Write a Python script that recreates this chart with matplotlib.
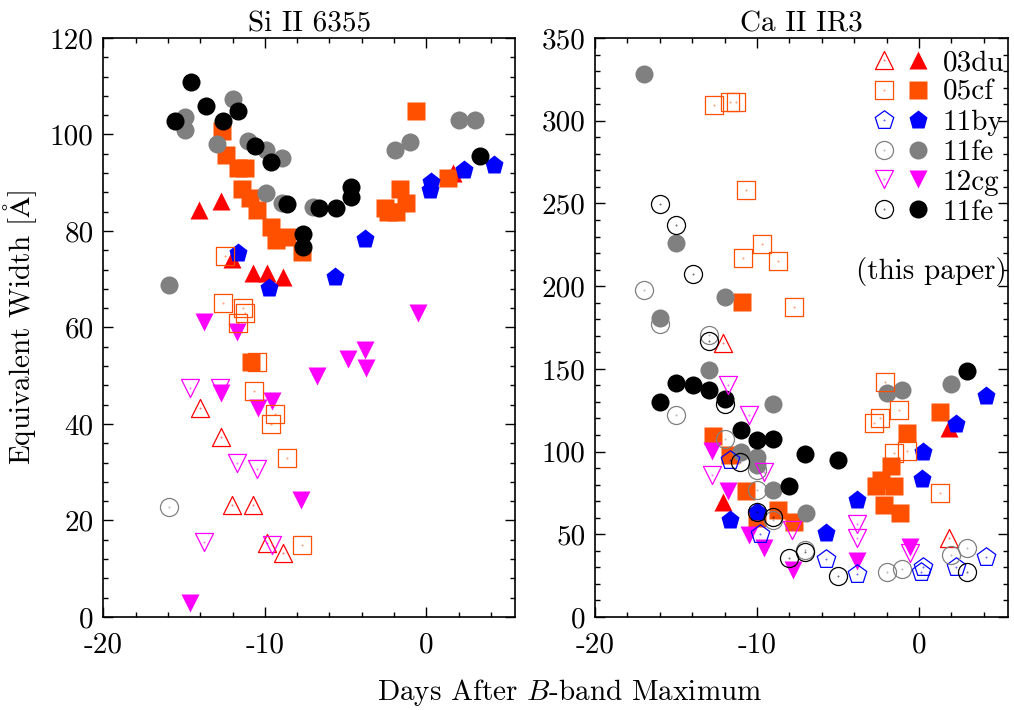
import matplotlib
matplotlib.use("Agg")
import matplotlib.pyplot as plt
from matplotlib.legend_handler import HandlerTuple
from matplotlib.ticker import MultipleLocator
from matplotlib.markers import MarkerStyle
from matplotlib.path import Path

plt.rcParams['font.family'] = ['cmr10', 'DejaVu Serif']
plt.rcParams['mathtext.fontset'] = 'cm'
plt.rcParams['axes.unicode_minus'] = False
plt.rcParams['axes.formatter.use_mathtext'] = False

# ---------------- Si II 6355 (left panel) ----------------
si_03du_open_day = [-14.02, -12.74, -12.02, -10.76, -9.86, -8.87]
si_03du_open_ew = [43.3, 37.4, 23.2, 23.2, 15.3, 13.3]
si_03du_fill_day = [-14.06, -12.74, -12.06, -10.76, -9.86, -8.87, 1.65]
si_03du_fill_ew = [84.4, 86.3, 74.2, 71.3, 71.3, 70.5, 92.0]

si_05cf_open_day = [-12.46, -12.62, -11.34, -11.24, -11.65, -10.48, -10.66, -9.38, -9.65, -8.66, -7.67]
si_05cf_open_ew = [74.9, 65.0, 64.0, 62.9, 60.9, 52.9, 46.9, 42.0, 39.9, 32.9, 14.9]
si_05cf_fill_day = [-12.66, -12.41, -11.65, -11.24, -11.44, -10.93, -10.51, -9.65, -9.28, -8.66, -7.67,
                    -10.88, -0.66, -1.65, -2.58, -2.37, -1.24, -1.9, 1.34]
si_05cf_fill_ew = [100.8, 95.8, 93.0, 93.0, 88.8, 86.8, 84.4, 80.8, 78.1, 78.8, 75.7,
                   52.9, 104.9, 88.8, 84.7, 84.0, 85.7, 84.0, 90.9]

si_11by_open_day = []
si_11by_open_ew = []
si_11by_fill_day = [-11.65, -9.75, -3.77, -5.67, 0.31, 0.2, 2.31, 4.22]
si_11by_fill_ew = [75.4, 68.1, 78.3, 70.5, 90.2, 88.5, 92.6, 93.7]

si_11fe_open_day = [-15.93]
si_11fe_open_ew = [22.7]
si_11fe_fill_day = [-15.93, -14.95, -14.95, -12.95, -11.96, -11.03, -9.94, -8.97, -9.96, -8.97, -7.01,
                    -1.96, -0.99, 2.0, 2.99]
si_11fe_fill_ew = [68.9, 103.7, 100.9, 98.0, 107.3, 98.7, 96.8, 95.1, 87.8, 85.7, 85.0,
                   96.8, 98.5, 103.0, 103.0]

si_12cg_open_day = [-14.64, -12.78, -11.75, -10.48, -13.75, -9.55]
si_12cg_open_ew = [47.4, 47.4, 31.9, 30.6, 15.5, 14.9]
si_12cg_fill_day = [-13.75, -11.75, -12.74, -10.45, -9.55, -6.77, -4.85, -3.82, -3.75, -7.77, -0.52, -14.64]
si_12cg_fill_ew = [61.2, 59.0, 46.4, 43.4, 44.8, 50.0, 53.4, 55.3, 51.6, 24.2, 62.9, 2.8]

si_this_open_day = []
si_this_open_ew = []
si_this_fill_day = [-15.57, -14.6, -13.65, -12.62, -11.65, -10.62, -9.6, -8.66, -7.63, -7.63,
                    -6.64, -5.61, -4.64, -4.64, 3.3]
si_this_fill_ew = [102.8, 110.9, 105.9, 102.8, 104.9, 97.6, 94.2, 85.5, 79.4, 76.6,
                   84.8, 84.8, 89.2, 87.1, 95.5]

# ---------------- Ca II IR3 (right panel) ----------------
ca_03du_open_day = [-12.07, 1.85]
ca_03du_open_ew = [165.9, 47.6]
ca_03du_fill_day = [-12.1, 1.85]
ca_03du_fill_ew = [69.8, 114.3]

ca_05cf_open_day = [-12.68, -11.69, -11.28, -10.7, -9.69, -10.89, -8.7, -7.69, -2.11, -1.24, -2.42, -2.75,
                    -1.55, -0.72, 1.27]
ca_05cf_open_ew = [309.5, 311.5, 311.5, 258.3, 225.5, 216.9, 215.4, 187.1, 142.0, 125.4, 120.0, 117.0,
                   99.1, 100.1, 74.9]
ca_05cf_fill_day = [-10.93, -12.72, -11.69, -10.66, -10.0, -8.73, -7.74, -0.72, -1.71, -2.37, -2.68, -1.51,
                    -2.13, -1.2, 1.27]
ca_05cf_fill_ew = [190.2, 109.2, 98.1, 75.9, 60.0, 64.7, 57.6, 111.3, 91.0, 82.9, 78.9, 78.9,
                   67.8, 62.7, 123.8]

ca_11by_open_day = [-11.69, -9.8, -5.71, -3.82, 0.14, 0.27, 2.26, 4.16]
ca_11by_open_ew = [95.1, 50.2, 34.8, 25.9, 27.3, 30.3, 30.3, 36.0]
ca_11by_fill_day = [-11.69, -10.0, -3.82, -5.71, 0.27, 0.2, 2.26, 4.16]
ca_11by_fill_ew = [58.7, 63.7, 70.8, 50.6, 99.5, 83.4, 116.9, 133.5]

ca_11fe_open_day = [-16.97, -15.98, -12.99, -14.99, -12.0, -10.0, -10.0, -9.01, -7.01, -2.0, -1.03, 1.95, 2.94]
ca_11fe_open_ew = [197.8, 177.0, 170.3, 122.4, 107.8, 89.0, 76.9, 58.7, 40.5, 27.3, 28.8, 37.4, 41.5]
ca_11fe_fill_day = [-16.97, -14.99, -15.98, -12.0, -12.99, -9.03, -11.0, -10.0, -10.0, -9.0, -7.0,
                    -2.0, -1.03, 1.95]
ca_11fe_fill_ew = [328, 226, 181, 193.6, 149.3, 128.5, 100, 97, 92, 77, 63, 135.6, 137.1, 141]

ca_12cg_open_day = [-11.79, -10.52, -12.78, -9.55, -7.84, -3.82, -3.82, -0.56]
ca_12cg_open_ew = [140.0, 121.8, 86.0, 87.4, 52.6, 56.3, 47.6, 38.5]
ca_12cg_fill_day = [-12.78, -11.79, -10.52, -9.59, -7.8, -3.82, -0.56]
ca_12cg_fill_ew = [100.1, 75.9, 49.6, 41.5, 28.3, 34.0, 42.5]

ca_this_open_day = [-15.98, -14.99, -13.98, -12.99, -12.0, -11.03, -10.0, -9.01, -8.0, -7.01, -4.99, 2.94]
ca_this_open_ew = [249.8, 237.1, 207.3, 166.9, 128.5, 93.4, 63.7, 60.7, 35.4, 39.4, 24.7, 27.3]
ca_this_fill_day = [-15.98, -14.99, -13.98, -12.99, -12.0, -10.99, -10.0, -9.03, -8.0, -7.01, -5.02, 2.94]
ca_this_fill_ew = [129.9, 141.6, 140.0, 137.1, 131.5, 113.3, 107.2, 107.8, 78.9, 98.7, 95.1, 148.7]

labels = ["03du", "05cf", "11by", "11fe", "12cg", "11fe"]
colors = ["#ff0000", "#ff5000", "#0000ff", "#808080", "#ff00ff", "#000000"]
markers = ["^", "s", "p", "o", "v", "o"]
msizes = [13, 13, 14, 13, 13, 13]


def dotted_marker(m):
    """Outline marker with a tiny centre dot (open symbols)."""
    ms = MarkerStyle(m)
    outline = ms.get_path().transformed(ms.get_transform())
    dot = Path.circle((0, 0), 0.012)
    return Path.make_compound_path(outline, dot)


si_sets = [
    (si_03du_open_day, si_03du_open_ew, si_03du_fill_day, si_03du_fill_ew),
    (si_05cf_open_day, si_05cf_open_ew, si_05cf_fill_day, si_05cf_fill_ew),
    (si_11by_open_day, si_11by_open_ew, si_11by_fill_day, si_11by_fill_ew),
    (si_11fe_open_day, si_11fe_open_ew, si_11fe_fill_day, si_11fe_fill_ew),
    (si_12cg_open_day, si_12cg_open_ew, si_12cg_fill_day, si_12cg_fill_ew),
    (si_this_open_day, si_this_open_ew, si_this_fill_day, si_this_fill_ew),
]
ca_sets = [
    (ca_03du_open_day, ca_03du_open_ew, ca_03du_fill_day, ca_03du_fill_ew),
    (ca_05cf_open_day, ca_05cf_open_ew, ca_05cf_fill_day, ca_05cf_fill_ew),
    (ca_11by_open_day, ca_11by_open_ew, ca_11by_fill_day, ca_11by_fill_ew),
    (ca_11fe_open_day, ca_11fe_open_ew, ca_11fe_fill_day, ca_11fe_fill_ew),
    (ca_12cg_open_day, ca_12cg_open_ew, ca_12cg_fill_day, ca_12cg_fill_ew),
    (ca_this_open_day, ca_this_open_ew, ca_this_fill_day, ca_this_fill_ew),
]

fig = plt.figure(figsize=(10.14, 7.10), dpi=100)
ax1 = fig.add_axes([0.102, 0.131, 0.406, 0.8155])
ax2 = fig.add_axes([0.5868, 0.131, 0.4073, 0.8155])

FS = 21


def draw(ax, sets):
    fills = []
    for i, (od, oe, fd, fe) in enumerate(sets):
        c, m, ms = colors[i], markers[i], msizes[i]
        hf, = ax.plot(fd, fe, linestyle='none', marker=m, ms=ms, mfc=c, mec='none', zorder=2 + i * 0.1)
        fills.append(hf)
    opens = []
    for i, (od, oe, fd, fe) in enumerate(sets):
        c, m, ms = colors[i], markers[i], msizes[i]
        ho, = ax.plot(od, oe, linestyle='none', marker=dotted_marker(m), ms=ms, mfc='none', mec=c,
                      mew=0.9, zorder=4 + i * 0.1)
        opens.append(ho)
    return list(zip(opens, fills))


draw(ax1, si_sets)
leg_handles = draw(ax2, ca_sets)

for ax, ylim, major_y, minor_y, title in [
        (ax1, 120, 20, 4, "Si II 6355"),
        (ax2, 350, 50, 10, "Ca II IR3")]:
    ax.set_xlim(-20, 5.5)
    ax.set_ylim(0, ylim)
    ax.xaxis.set_major_locator(MultipleLocator(10))
    ax.xaxis.set_minor_locator(MultipleLocator(2))
    ax.yaxis.set_major_locator(MultipleLocator(major_y))
    ax.yaxis.set_minor_locator(MultipleLocator(minor_y))
    ax.tick_params(which='both', direction='in', top=True, right=True, labelsize=FS, width=1.0)
    ax.tick_params(which='major', length=7)
    ax.tick_params(axis='y', which='major', pad=7)
    ax.tick_params(axis='x', which='major', pad=11)
    ax.tick_params(which='minor', length=3.5)
    for s in ax.spines.values():
        s.set_linewidth(1.2)
    ax.set_title(title, fontsize=FS, pad=5)

ax1.set_ylabel(r"Equivalent Width [$\mathrm{\AA}$]", fontsize=FS, labelpad=8)
fig.text(0.562, 0.025, r"Days After $B$-band Maximum", fontsize=FS, ha='center', va='center')

leg = ax2.legend(leg_handles, labels, loc='upper right', bbox_to_anchor=(1.005, 0.99), frameon=False,
                 fontsize=FS, handler_map={tuple: HandlerTuple(ndivide=None, pad=0.0)},
                 handlelength=2.33, handletextpad=0.27, labelspacing=0.12, borderpad=0.2,
                 borderaxespad=0.0)
ax2.text(0.997, 0.597, "(this paper)", transform=ax2.transAxes, fontsize=FS, ha='right', va='center')

fig.savefig("out.png", dpi=100)
